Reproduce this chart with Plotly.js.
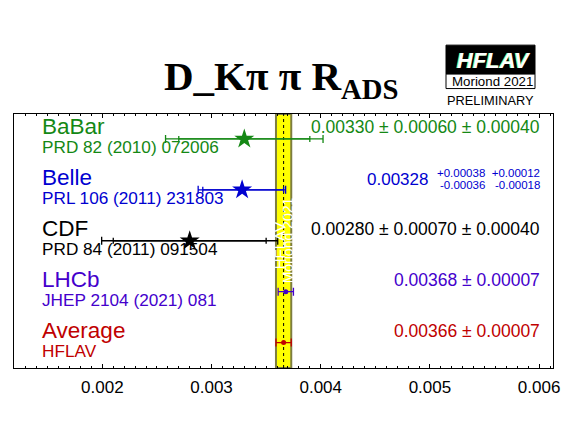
<!DOCTYPE html>
<html>
<head>
<meta charset="utf-8">
<script src="https://cdn.plot.ly/plotly-3.0.1.min.js"></script>
<style>html,body{margin:0;padding:0;background:#fff;}#chart{width:567px;height:425px;}</style>
</head>
<body>
<div id="chart"></div>
<script>
// ---- data ----
const experiments = ['BaBar', 'Belle', 'CDF', 'LHCb', 'Average'];
const references = ['PRD 82 (2010) 072006', 'PRL 106 (2011) 231803', 'PRD 84 (2011) 091504', 'JHEP 2104 (2021) 081', 'HFLAV'];
const values    = [0.00330, 0.00328, 0.00280, 0.00368, 0.00366];
const statPlus  = [0.00060, 0.00038, 0.00070, 0.00007, 0.00007];
const statMinus = [0.00060, 0.00036, 0.00070, 0.00007, 0.00007];
const systPlus  = [0.00040, 0.00012, 0.00040, 0, 0];
const systMinus = [0.00040, 0.00018, 0.00040, 0, 0];
const rowY      = [4, 3, 2, 1, 0];
const colors    = ['#148814', '#0000d0', '#000000', '#4400cc', '#c00000'];
const markers   = ['star', 'star', 'star', 'circle', 'circle'];
const markerSizes = [15, 15, 15, 5, 5];
const xTickVals = [0.002, 0.003, 0.004, 0.005, 0.006];
const xTickText = ['0.002', '0.003', '0.004', '0.005', '0.006'];
const average = 0.00366, averageErr = 0.00007;

// ---- plot geometry helpers (pixels of the plot frame) ----
const PL = 14, PR = 553, PT = 114, PB = 368.5;
const px = x => (x - PL) / (PR - PL);
const py = y => (PB - y) / (PB - PT);
const FONT = 'Liberation Sans, Arial, Helvetica, sans-serif';

const traces = [];
const annotations = [];
experiments.forEach((name, i) => {
  const totP = Math.sqrt(statPlus[i] ** 2 + systPlus[i] ** 2);
  const totM = Math.sqrt(statMinus[i] ** 2 + systMinus[i] ** 2);
  // total error with outer caps
  traces.push({
    x: [values[i]], y: [rowY[i]], type: 'scatter', mode: 'markers',
    marker: {symbol: markers[i], size: markerSizes[i], color: colors[i]},
    error_x: {type: 'data', symmetric: false, array: [totP], arrayminus: [totM],
              color: colors[i], thickness: 1.3, width: 4},
    hoverinfo: 'skip'
  });
  // statistical error ticks
  if (systPlus[i] > 0 || systMinus[i] > 0) {
    traces.push({
      x: [values[i]], y: [rowY[i]], type: 'scatter', mode: 'markers',
      marker: {size: 1, color: colors[i], opacity: 0},
      error_x: {type: 'data', symmetric: false, array: [statPlus[i]], arrayminus: [statMinus[i]],
                color: colors[i], thickness: 1.3, width: 3},
      hoverinfo: 'skip'
    });
  }
  annotations.push({xref: 'paper', yref: 'y', x: px(41), y: rowY[i], yshift: 12.5,
    xanchor: 'left', yanchor: 'middle', showarrow: false, borderpad: 0,
    text: name, font: {family: FONT, size: 22.5, color: colors[i]}});
  annotations.push({xref: 'paper', yref: 'y', x: px(41), y: rowY[i], yshift: -8.5,
    xanchor: 'left', yanchor: 'middle', showarrow: false, borderpad: 0,
    text: references[i], font: {family: FONT, size: 17.2, color: colors[i]}});
  const f = v => v.toFixed(5);
  if (statPlus[i] !== statMinus[i] || systPlus[i] !== systMinus[i]) {
    annotations.push({xref: 'paper', yref: 'y', x: px(429), y: rowY[i], yshift: 10.5,
      xanchor: 'right', yanchor: 'middle', showarrow: false, borderpad: 0,
      text: f(values[i]), font: {family: FONT, size: 17, color: colors[i]}});
    annotations.push({xref: 'paper', yref: 'y', x: px(541), y: rowY[i], yshift: 17.3,
      xanchor: 'right', yanchor: 'middle', showarrow: false, borderpad: 0,
      text: '+' + f(statPlus[i]) + '\u00a0\u00a0+' + f(systPlus[i]),
      font: {family: FONT, size: 11.5, color: colors[i]}});
    annotations.push({xref: 'paper', yref: 'y', x: px(541), y: rowY[i], yshift: 4.8,
      xanchor: 'right', yanchor: 'middle', showarrow: false, borderpad: 0,
      text: '-' + f(statMinus[i]) + '\u00a0\u00a0\u00a0-' + f(systMinus[i]),
      font: {family: FONT, size: 11.5, color: colors[i]}});
  } else {
    let t = f(values[i]) + ' ± ' + f(statPlus[i]);
    if (systPlus[i] > 0) t += ' ± ' + f(systPlus[i]);
    annotations.push({xref: 'paper', yref: 'y', x: px(541), y: rowY[i], yshift: 11.5,
      xanchor: 'right', yanchor: 'middle', showarrow: false, borderpad: 0,
      text: t, font: {family: FONT, size: 17.5, color: colors[i]}});
  }
});

// title
annotations.push({xref: 'paper', yref: 'paper', x: px(163), y: py(79), xanchor: 'left', yanchor: 'middle',
  showarrow: false, borderpad: 0, text: '<b>D_Kπ π R<sub>ADS</sub></b>',
  font: {family: 'Liberation Serif, Times New Roman, serif', size: 41, color: '#000'}});

// HFLAV logo
annotations.push({xref: 'paper', yref: 'paper', x: px(492.5), y: py(60.5), xanchor: 'center', yanchor: 'middle',
  showarrow: false, borderpad: 0, text: '<b><i>HFLAV</i></b>',
  font: {family: FONT, size: 22, color: '#7dff7d'}});
annotations.push({xref: 'paper', yref: 'paper', x: px(493.8), y: py(60), xanchor: 'center', yanchor: 'middle',
  showarrow: false, borderpad: 0, text: '<b><i>HFLAV</i></b>',
  font: {family: FONT, size: 22, color: '#ffffff'}});
annotations.push({xref: 'paper', yref: 'paper', x: px(492.5), y: py(81.5), xanchor: 'center', yanchor: 'middle',
  showarrow: false, borderpad: 0, text: 'Moriond 2021',
  font: {family: FONT, size: 13.3, color: '#000'}});
annotations.push({xref: 'paper', yref: 'paper', x: px(490), y: py(100.5), xanchor: 'center', yanchor: 'middle',
  showarrow: false, borderpad: 0, text: 'PRELIMINARY',
  font: {family: FONT, size: 12.8, color: '#000'}});

// text inside the average band
annotations.push({xref: 'x', yref: 'paper', x: average, y: py(246), xshift: -4, xanchor: 'center', yanchor: 'middle',
  showarrow: false, borderpad: 0, textangle: -90, text: 'HFLAV',
  font: {family: FONT, size: 15, color: '#ffffff'}});
annotations.push({xref: 'x', yref: 'paper', x: average, y: py(241), xshift: 4, xanchor: 'center', yanchor: 'middle',
  showarrow: false, borderpad: 0, textangle: -90, text: 'Moriond 2021',
  font: {family: FONT, size: 14, color: '#ffffff'}});

const shapes = [
  {type: 'rect', xref: 'x', yref: 'paper', x0: average - averageErr, x1: average + averageErr, y0: 0, y1: 1,
   fillcolor: '#ffff00', line: {color: '#7d7d40', width: 2}, layer: 'below'},
  {type: 'line', xref: 'x', yref: 'paper', x0: average, x1: average, y0: 0, y1: 1,
   line: {color: '#000', width: 1, dash: 'dot'}, layer: 'below'},
  {type: 'rect', xref: 'paper', yref: 'paper', x0: px(446), x1: px(535), y0: py(74), y1: py(45),
   fillcolor: '#000', line: {color: '#000', width: 1}, layer: 'below'},
  {type: 'rect', xref: 'paper', yref: 'paper', x0: px(446), x1: px(535), y0: py(88.5), y1: py(74),
   fillcolor: '#fff', line: {color: '#000', width: 1}, layer: 'below'}
];

const layout = {
  width: 567, height: 425,
  margin: {l: PL, r: 567 - PR, t: PT, b: 425 - PB, pad: 0},
  paper_bgcolor: '#fff', plot_bgcolor: '#fff', showlegend: false,
  xaxis: {range: [0.001191, 0.006127], tickmode: 'array', tickvals: xTickVals, ticktext: xTickText,
          ticks: 'inside', ticklen: 4, tickcolor: '#000', tickwidth: 1, ticklabelstandoff: 4,
          showline: true, linecolor: '#000', linewidth: 1, mirror: 'ticks',
          showgrid: false, zeroline: false, tickfont: {family: FONT, size: 17, color: '#000'},
          minor: {tickmode: 'linear', tick0: 0.002, dtick: 0.0001, ticks: 'inside', ticklen: 2, tickcolor: '#000', showgrid: false}},
  yaxis: {range: [-0.5, 4.49], showticklabels: false, ticks: '', showline: true, linecolor: '#000',
          linewidth: 1, mirror: true, showgrid: false, zeroline: false},
  shapes: shapes,
  annotations: annotations
};

Plotly.newPlot('chart', traces, layout, {staticPlot: true, displayModeBar: false});
</script>
</body>
</html>
